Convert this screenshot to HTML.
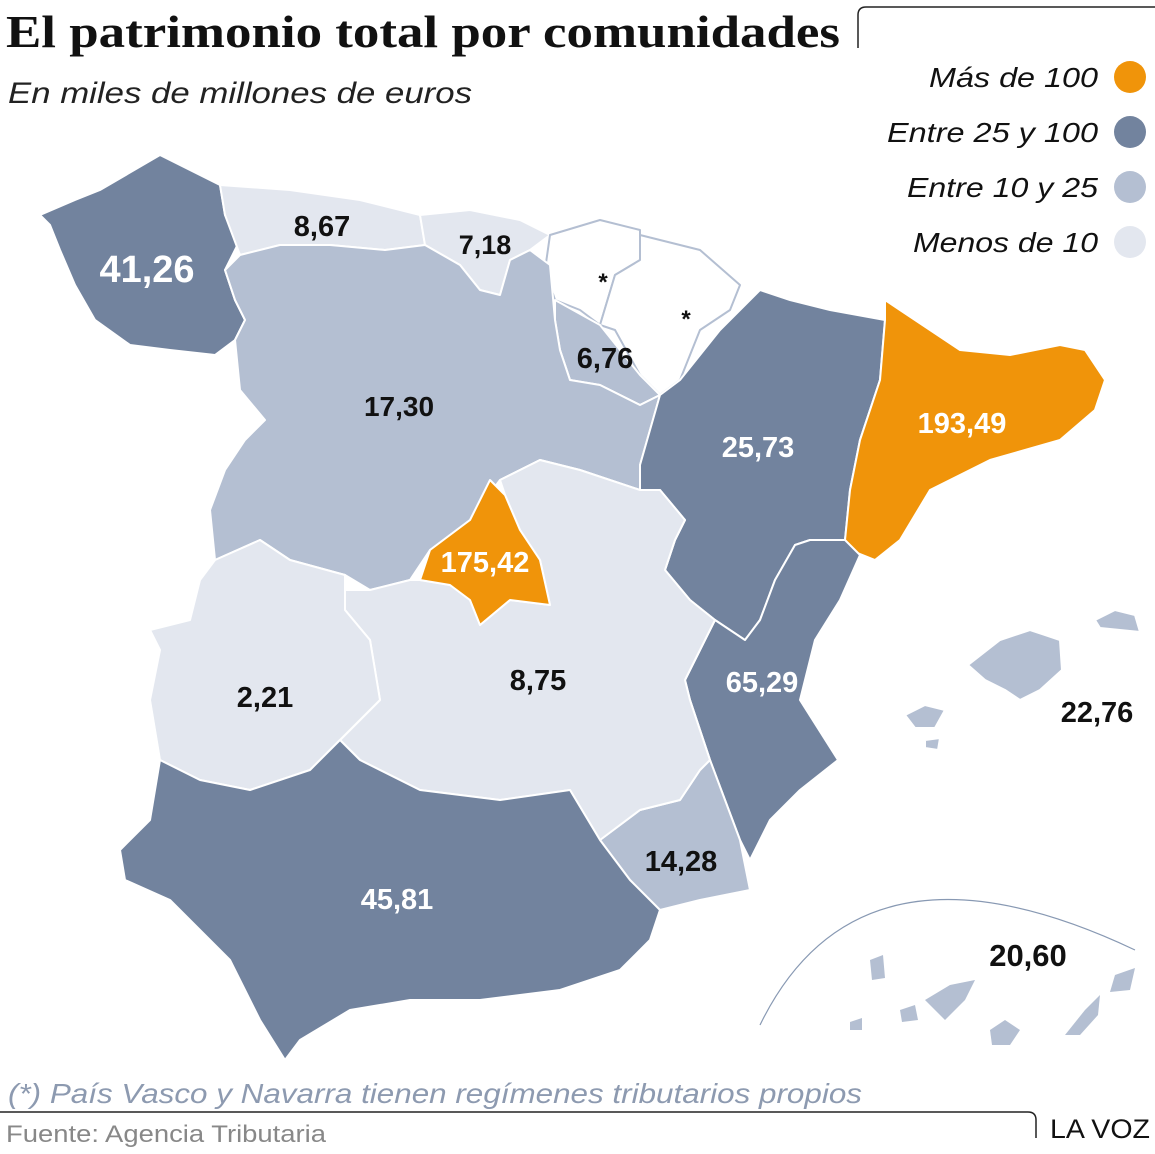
<!DOCTYPE html>
<html><head><meta charset="utf-8"><style>
body{margin:0;background:#fff;width:1155px;height:1149px;overflow:hidden;font-family:"Liberation Sans",sans-serif}
</style></head><body>
<svg width="1155" height="1149" viewBox="0 0 1155 1149" xmlns="http://www.w3.org/2000/svg">
<g stroke="#fff" stroke-width="2" stroke-linejoin="round">
<polygon fill="#72839e" points="40,215 75,200 100,190 160,155 190,170 220,185 225,215 240,240 225,270 235,300 245,320 235,340 215,355 170,350 130,345 95,320 75,285 60,250 50,225"/>
<polygon fill="#e3e7ef" points="220,185 290,190 360,200 420,215 425,245 385,250 330,245 280,245 240,255 225,215"/>
<polygon fill="#e3e7ef" points="420,215 470,210 520,220 550,235 530,250 510,260 500,295 480,290 460,265 425,245"/>
<polygon fill="#fff" stroke="#b4bfd2" points="550,235 600,220 640,230 640,260 615,275 600,325 580,310 555,300 545,270"/>
<polygon fill="#fff" stroke="#b4bfd2" points="640,235 700,250 740,285 730,310 700,330 680,380 660,395 640,375 615,330 600,325 615,275 640,260"/>
<polygon fill="#b4bfd2" points="555,300 600,325 640,375 660,395 640,405 600,385 570,380 560,350 555,320"/>
<polygon fill="#b4bfd2" points="240,255 280,245 330,245 385,250 425,245 460,265 480,290 500,295 510,260 530,250 550,265 555,320 560,350 570,380 600,385 640,405 660,395 650,430 640,465 640,490 580,470 540,460 500,480 470,520 430,550 410,580 370,590 345,575 290,560 260,540 215,560 210,510 225,470 245,440 265,420 240,390 235,340 245,320 235,300 225,270"/>
<polygon fill="#72839e" points="660,395 680,380 720,330 760,290 790,300 830,310 885,320 880,380 860,440 850,490 845,540 810,540 795,545 775,580 760,620 745,640 715,620 690,600 665,570 675,540 685,520 660,490 640,490 640,465 650,430"/>
<polygon fill="#f0940a" points="885,300 900,310 960,350 1010,355 1060,345 1085,350 1105,380 1095,410 1060,440 990,460 930,490 900,540 875,560 850,550 845,540 850,490 860,440 880,380 885,320"/>
<polygon fill="#72839e" points="845,540 860,555 840,600 815,640 800,700 838,760 800,790 770,820 750,860 740,840 725,800 710,760 690,700 685,680 700,650 715,620 745,640 760,620 775,580 795,545 810,540"/>
<polygon fill="#b4bfd2" points="700,770 710,760 725,800 740,840 750,890 700,900 660,910 630,880 600,840 640,810 680,800"/>
<polygon fill="#e3e7ef" points="500,480 540,460 580,470 640,490 660,490 685,520 675,540 665,570 690,600 715,620 700,650 685,680 690,700 710,760 700,770 680,800 640,810 600,840 570,790 500,800 420,790 360,760 340,740 380,700 370,640 345,610 345,590 370,590 410,580 420,580 450,585 470,600 480,625 510,600 550,605 540,560 520,530 505,495"/>
<polygon fill="#f0940a" points="490,480 505,495 520,530 540,560 550,605 510,600 480,625 470,600 450,585 420,580 430,550 470,520"/>
<polygon fill="#e3e7ef" points="215,560 260,540 290,560 345,575 345,610 370,640 380,700 340,740 310,770 250,790 200,780 160,760 150,700 160,650 150,630 190,620 200,580"/>
<polygon fill="#72839e" points="160,760 200,780 250,790 310,770 340,740 360,760 420,790 500,800 570,790 600,840 630,880 660,910 650,940 620,970 560,990 480,1000 410,1000 350,1010 300,1040 285,1060 260,1020 230,960 170,900 125,880 120,850 150,820"/>
<polygon fill="#b4bfd2" points="968,665 1000,640 1030,630 1060,640 1062,670 1040,690 1020,700 1005,690 985,680"/>
<polygon fill="#b4bfd2" points="1095,620 1115,610 1135,615 1140,632 1120,630 1100,628"/>
<polygon fill="#b4bfd2" points="905,715 925,705 945,710 935,728 915,728"/>
<polygon fill="#b4bfd2" points="925,740 940,738 938,750 925,748"/>
</g>
<g fill="#b4bfd2">
<polygon points="1065,1035 1085,1010 1100,995 1098,1015 1080,1035"/>
<polygon points="1115,975 1135,968 1130,990 1110,992"/>
<polygon points="990,1030 1005,1020 1020,1030 1010,1045 992,1045"/>
<polygon points="925,1000 950,985 975,980 965,1000 945,1020"/>
<polygon points="900,1010 915,1005 918,1020 902,1022"/>
<polygon points="870,960 883,955 885,978 872,980"/>
<polygon points="850,1022 862,1018 862,1030 850,1030"/>
</g>
<path d="M760,1025 Q860,820 1135,950" fill="none" stroke="#8899b3" stroke-width="1.2"/>
<g font-family="Liberation Sans,sans-serif" font-weight="bold" text-anchor="middle">
<text x="147" y="282" font-size="38" fill="#fff">41,26</text>
<text x="322" y="236" font-size="29" fill="#111">8,67</text>
<text x="485" y="254" font-size="27" fill="#111">7,18</text>
<text x="605" y="368" font-size="29" fill="#111">6,76</text>
<text x="399" y="416" font-size="28" fill="#111">17,30</text>
<text x="758" y="457" font-size="29" fill="#fff">25,73</text>
<text x="962" y="433" font-size="29" fill="#fff">193,49</text>
<text x="485" y="572" font-size="29" fill="#fff">175,42</text>
<text x="538" y="690" font-size="29" fill="#111">8,75</text>
<text x="265" y="707" font-size="29" fill="#111">2,21</text>
<text x="762" y="692" font-size="29" fill="#fff">65,29</text>
<text x="1097" y="722" font-size="29" fill="#111">22,76</text>
<text x="681" y="871" font-size="29" fill="#111">14,28</text>
<text x="397" y="909" font-size="29" fill="#fff">45,81</text>
<text x="1028" y="966" font-size="31" fill="#111">20,60</text>
<text x="603" y="290" font-size="24" fill="#111">*</text>
<text x="686" y="327" font-size="24" fill="#111">*</text>
</g>
<text x="6" y="47" font-family="Liberation Serif,serif" font-weight="bold" font-size="46" fill="#111" textLength="834" lengthAdjust="spacingAndGlyphs">El patrimonio total por comunidades</text>
<text x="8" y="103" font-style="italic" font-size="30" fill="#222" textLength="464" lengthAdjust="spacingAndGlyphs">En miles de millones de euros</text>
<path d="M858,48 L858,15 Q858,7 866,7 L1155,7" fill="none" stroke="#222" stroke-width="1.5"/>
<g font-style="italic" font-size="28" fill="#111">
<text x="929" y="87" textLength="169" lengthAdjust="spacingAndGlyphs">Más de 100</text>
<text x="887" y="142" textLength="211" lengthAdjust="spacingAndGlyphs">Entre 25 y 100</text>
<text x="907" y="197" textLength="191" lengthAdjust="spacingAndGlyphs">Entre 10 y 25</text>
<text x="913" y="252" textLength="185" lengthAdjust="spacingAndGlyphs">Menos de 10</text>
</g>
<circle cx="1130" cy="77" r="16" fill="#f0940a"/>
<circle cx="1130" cy="132" r="16" fill="#72839e"/>
<circle cx="1130" cy="187" r="16" fill="#b4bfd2"/>
<circle cx="1130" cy="242" r="16" fill="#e3e7ef"/>
<text x="8" y="1103" font-style="italic" font-size="28" fill="#8d9ab0" textLength="854" lengthAdjust="spacingAndGlyphs">(*) País Vasco y Navarra tienen regímenes tributarios propios</text>
<path d="M0,1112 L1028,1112 Q1036,1112 1036,1120 L1036,1138" fill="none" stroke="#222" stroke-width="1.5"/>
<text x="6" y="1142" font-size="24" fill="#888" textLength="320" lengthAdjust="spacingAndGlyphs">Fuente: Agencia Tributaria</text>
<text x="1050" y="1138" font-size="27" fill="#111" textLength="100" lengthAdjust="spacingAndGlyphs">LA VOZ</text>
</svg>
</body></html>
